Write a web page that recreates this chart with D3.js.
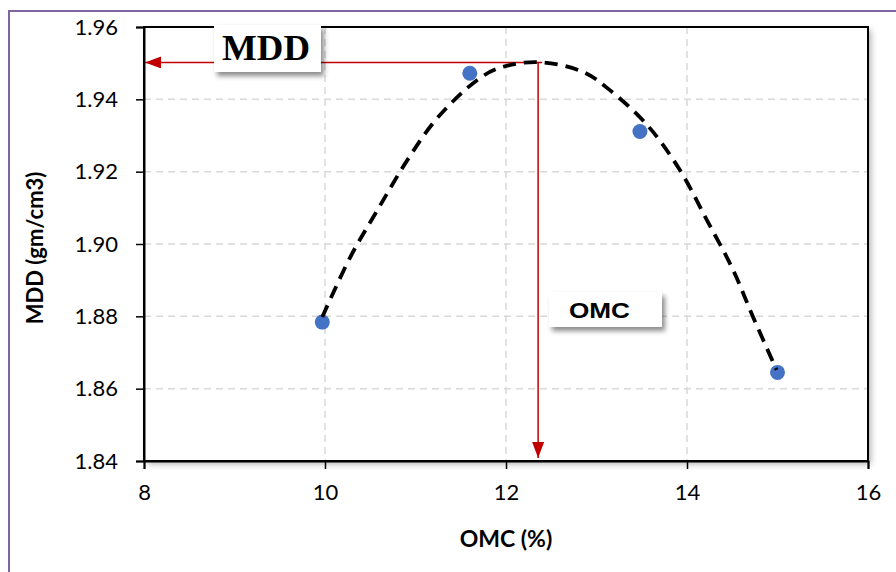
<!DOCTYPE html>
<html>
<head>
<meta charset="utf-8">
<script src="https://cdn.jsdelivr.net/npm/d3@7"></script>
<style>
  html, body { margin: 0; padding: 0; background: #fff; }
  svg { display: block; }
</style>
</head>
<body>
<script>
// Compaction test results
const omc = [9.97, 11.6, 13.48, 15.0];
const mdd = [1.8784, 1.9472, 1.9311, 1.8645];

// Fitted compaction curve, sampled along its length
const trendOmc = [9.97, 10.28, 10.58, 10.91, 11.24, 11.68, 11.93, 12.35, 12.85, 13.12, 13.56, 13.92, 14.22, 14.51, 14.73, 14.99];
const trendMdd = [1.8798, 1.8964, 1.9094, 1.9232, 1.9348, 1.9453, 1.9487, 1.9503, 1.9476, 1.9431, 1.9329, 1.9205, 1.9066, 1.8928, 1.8798, 1.8652];

// Optimum point
const optOmc = 12.355;
const optMdd = 1.9502;

const xTicks = [8, 10, 12, 14, 16];
const yTicks = [1.84, 1.86, 1.88, 1.90, 1.92, 1.94, 1.96];

const W = 896, H = 572;
const m = { left: 144, right: 868, top: 27, bottom: 461 };

const svg = d3.select("body").append("svg").attr("width", W).attr("height", H);
const defs = svg.append("defs");

const sh = defs.append("filter").attr("id", "shadow")
  .attr("x", "-10%").attr("y", "-10%").attr("width", "130%").attr("height", "150%");
sh.append("feDropShadow").attr("dx", 3).attr("dy", 4).attr("stdDeviation", 2.5)
  .attr("flood-color", "#000").attr("flood-opacity", 0.45);

const fsh = defs.append("filter").attr("id", "frameShadow")
  .attr("x", "-5%").attr("y", "-5%").attr("width", "112%").attr("height", "115%");
fsh.append("feDropShadow").attr("dx", 3).attr("dy", 3).attr("stdDeviation", 3)
  .attr("flood-color", "#000").attr("flood-opacity", 0.3);

defs.append("marker").attr("id", "arrow")
  .attr("viewBox", "0 0 16 12").attr("refX", 16).attr("refY", 6)
  .attr("markerWidth", 16).attr("markerHeight", 12)
  .attr("markerUnits", "userSpaceOnUse").attr("orient", "auto")
  .append("path").attr("d", "M0,0 L16,6 L0,12 Z").attr("fill", "#c00000");

// Outer chart border
svg.append("rect").attr("x", 9).attr("y", 11).attr("width", W + 20).attr("height", H + 20)
  .attr("fill", "#fff").attr("stroke", "#8064a2").attr("stroke-width", 2);

const x = d3.scaleLinear().domain([8, 16]).range([m.left, m.right]);
const y = d3.scaleLinear().domain([1.84, 1.96]).range([m.bottom, m.top]);

// Plot frame with soft shadow
svg.append("rect")
  .attr("x", m.left).attr("y", m.top)
  .attr("width", m.right - m.left).attr("height", m.bottom - m.top)
  .attr("fill", "#fff").attr("filter", "url(#frameShadow)");

// Gridlines
const grid = svg.append("g").attr("stroke", "#d9d9d9").attr("stroke-width", 1.5)
  .attr("stroke-dasharray", "7,5");
grid.selectAll("line.gx").data(xTicks.slice(1, -1)).join("line")
  .attr("x1", d => x(d)).attr("x2", d => x(d))
  .attr("y1", m.top).attr("y2", m.bottom);
grid.selectAll("line.gy").data(yTicks.slice(1, -1)).join("line")
  .attr("x1", m.left).attr("x2", m.right)
  .attr("y1", d => y(d)).attr("y2", d => y(d));

// Frame
svg.append("rect")
  .attr("x", m.left).attr("y", m.top)
  .attr("width", m.right - m.left).attr("height", m.bottom - m.top)
  .attr("fill", "none").attr("stroke", "#000").attr("stroke-width", 2);

// Axes
const tickFont = "Lato, 'Open Sans', sans-serif";
const xAxis = svg.append("g").attr("transform", `translate(0,${m.bottom})`)
  .call(d3.axisBottom(x).tickValues(xTicks).tickSize(8).tickPadding(15).tickFormat(d3.format("d")));
const yAxis = svg.append("g").attr("transform", `translate(${m.left},0)`)
  .call(d3.axisLeft(y).tickValues(yTicks).tickSize(8).tickPadding(18).tickFormat(d3.format(".2f")));
[xAxis, yAxis].forEach(a => {
  a.select(".domain").attr("stroke", "#000").attr("stroke-width", 2);
  a.selectAll(".tick line").attr("stroke", "#000").attr("stroke-width", 1.5);
  a.selectAll(".tick text").attr("fill", "#000")
    .style("font-family", tickFont).style("font-size", "22px");
});

// Axis titles
svg.append("text").attr("x", x(12)).attr("y", 547)
  .attr("text-anchor", "middle")
  .style("font-family", tickFont).style("font-size", "23px").style("font-weight", "bold")
  .text("OMC (%)");
svg.append("text")
  .attr("transform", `translate(43,${(m.top + m.bottom) / 2 + 4}) rotate(-90)`)
  .attr("text-anchor", "middle")
  .style("font-family", tickFont).style("font-size", "22px").style("font-weight", "bold")
  .text("MDD (gm/cm3)");

// Guide arrows from the optimum point to the axes
svg.append("line")
  .attr("x1", x(optOmc)).attr("y1", y(optMdd))
  .attr("x2", x(optOmc)).attr("y2", m.bottom - 3)
  .attr("stroke", "#c00000").attr("stroke-width", 1.5).attr("marker-end", "url(#arrow)");
svg.append("line")
  .attr("x1", x(optOmc) + 4).attr("y1", y(optMdd))
  .attr("x2", m.left + 1).attr("y2", y(optMdd))
  .attr("stroke", "#c00000").attr("stroke-width", 1.5).attr("marker-end", "url(#arrow)");

// Data points
svg.append("g").selectAll("circle")
  .data(omc.map((d, i) => [d, mdd[i]])).join("circle")
  .attr("cx", d => x(d[0])).attr("cy", d => y(d[1])).attr("r", 7.5)
  .attr("fill", "#4472c4");

// Dashed compaction curve
const line = d3.line().x(d => x(d[0])).y(d => y(d[1])).curve(d3.curveCatmullRom.alpha(0.5));
svg.append("path")
  .datum(trendOmc.map((d, i) => [d, trendMdd[i]]))
  .attr("d", line)
  .attr("fill", "none").attr("stroke", "#000").attr("stroke-width", 3.8)
  .attr("stroke-dasharray", "13,8");

// Label boxes
function labelBox(bx, by, bw, bh, txt, tx, ty, font, size, len) {
  svg.append("rect").attr("x", bx).attr("y", by).attr("width", bw).attr("height", bh)
    .attr("fill", "#fff").attr("filter", "url(#shadow)");
  const t = svg.append("text").attr("x", tx).attr("y", ty)
    .style("font-family", font).style("font-size", size + "px").style("font-weight", "bold")
    .attr("fill", "#000").text(txt);
  if (len) t.attr("textLength", len).attr("lengthAdjust", "spacingAndGlyphs");
}
labelBox(214, 25, 107, 47, "MDD", 222, 60, "'Liberation Serif', 'Times New Roman', serif", 36, 88);
labelBox(549, 292, 113, 35, "OMC", 569, 318, "'Liberation Sans', Arial, sans-serif", 22, 61);
</script>
</body>
</html>
